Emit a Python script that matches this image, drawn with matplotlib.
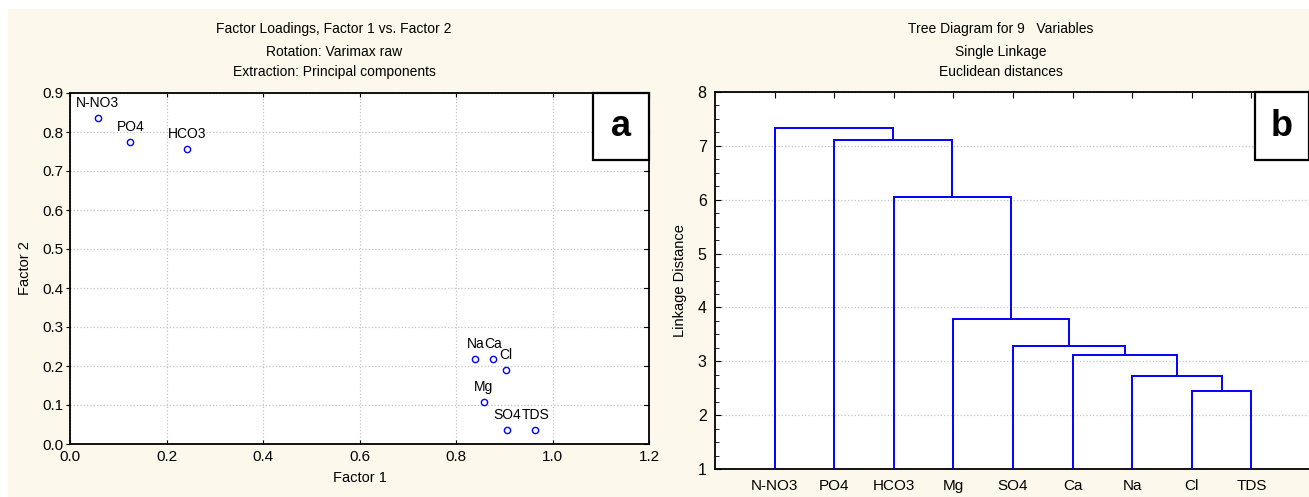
import matplotlib
matplotlib.use('Agg')
import matplotlib.pyplot as plt
from matplotlib.patches import Rectangle

plt.rcParams['font.family'] = ['Liberation Sans', 'DejaVu Sans']

# ---- data: factor loadings (panel a)
variables = ['N-NO3', 'PO4', 'HCO3', 'Na', 'Ca', 'Cl', 'Mg', 'SO4', 'TDS']
factor1 = [0.057, 0.125, 0.243, 0.840, 0.877, 0.904, 0.857, 0.906, 0.964]
factor2 = [0.835, 0.774, 0.756, 0.218, 0.218, 0.190, 0.108, 0.036, 0.036]

# ---- data: single linkage tree (panel b)
leaves = ['N-NO3', 'PO4', 'HCO3', 'Mg', 'SO4', 'Ca', 'Na', 'Cl', 'TDS']
# height at which leaf i joins the cluster of all leaves to its right
join_heights = [7.33, 7.10, 6.05, 3.79, 3.28, 3.12, 2.72, 2.44]

W, H = 1309, 497
fig = plt.figure(figsize=(W / 100, H / 100), dpi=100, facecolor='white')
cream = '#fdf8ec'
fig.patches.append(Rectangle((8 / W, 0), 1 - 8 / W, 1 - 9 / H, transform=fig.transFigure,
                             facecolor=cream, edgecolor='none', zorder=-10))

blue = '#0000ff'
grid_kw = dict(color='#c4c4c4', linestyle=':', linewidth=0.9)
title_fs = 10
tick_fs = 11


def px_axes(l, r, t, b):
    return fig.add_axes([l / W, (H - b) / H, (r - l) / W, (b - t) / H])


def letter_box(ax, x0, x1, y0, letter):
    ax.add_patch(Rectangle((x0, y0), x1 - x0, 1 - y0, transform=ax.transAxes,
                           facecolor='white', edgecolor='black', linewidth=1.6,
                           zorder=5, clip_on=False))
    ax.text((x1 + x0) / 2, (1 + y0) / 2, letter, transform=ax.transAxes,
            ha='center', va='center', fontsize=26, fontweight='bold', zorder=6)


############################################
# Panel a - scatter of loadings
############################################
ax1 = px_axes(70, 649, 93, 444)
ax1.plot(factor1, factor2, 'o', mfc='none', mec=blue, ms=4.5, mew=1.0, zorder=3)
for name, x, y in zip(variables, factor1, factor2):
    ax1.annotate(name, (x, y), xytext=(0, 6), textcoords='offset points',
                 ha='center', va='bottom', fontsize=10)
ax1.set_xlim(0, 1.2)
ax1.set_ylim(0, 0.9)
ax1.set_xticks([0.0, 0.2, 0.4, 0.6, 0.8, 1.0, 1.2])
ax1.set_yticks([i / 10 for i in range(10)])
ax1.xaxis.set_major_formatter(plt.FormatStrFormatter('%.1f'))
ax1.yaxis.set_major_formatter(plt.FormatStrFormatter('%.1f'))
ax1.grid(True, **grid_kw)
ax1.tick_params(axis='x', direction='in', top=True, length=3, labelsize=tick_fs, pad=4)
ax1.tick_params(axis='y', direction='out', right=False, length=3, labelsize=tick_fs, pad=2)
for y in ax1.get_yticks():
    ax1.plot([1.2, 1.19], [y, y], color='black', lw=0.8, clip_on=False, zorder=4)
for s in ax1.spines.values():
    s.set_linewidth(1.3)
ax1.set_xlabel('Factor 1', fontsize=10.5, labelpad=5)
ax1.set_ylabel('Factor 2', fontsize=10.5, labelpad=7)
letter_box(ax1, (593 - 70) / 579, 1.0, (444 - 160) / 351, 'a')

fig.text(334 / W, 1 - 29 / H, 'Factor Loadings, Factor 1 vs. Factor 2', ha='center', va='center', fontsize=title_fs)
fig.text(334 / W, 1 - 52 / H, 'Rotation: Varimax raw', ha='center', va='center', fontsize=title_fs)
fig.text(334 / W, 1 - 72 / H, 'Extraction: Principal components', ha='center', va='center', fontsize=title_fs)

############################################
# Panel b - dendrogram
############################################
ax2 = px_axes(715, 1311, 92, 469)
n = len(leaves)
cx, ch = float(n), 1.0
for i in range(n - 2, -1, -1):
    lx = i + 1
    h = join_heights[i]
    ax2.plot([lx, lx, cx, cx], [1, h, h, ch], color=blue, lw=1.4, solid_joinstyle='miter', zorder=3)
    cx, ch = (lx + cx) / 2, h
ax2.set_xlim(0, n + 1)
ax2.set_ylim(1, 8)
ax2.set_xticks(range(1, n + 1))
ax2.set_xticklabels(leaves)
ax2.set_yticks(range(1, 9))
ax2.set_yticks([1 + k * 0.25 for k in range(29)], minor=True)
ax2.yaxis.grid(True, **grid_kw)
ax2.tick_params(axis='x', which='both', bottom=False, top=True, direction='in', length=4,
                labelsize=tick_fs, pad=7)
ax2.tick_params(axis='y', which='major', direction='in', length=4, labelsize=tick_fs + 0.5, pad=6)
ax2.tick_params(axis='y', which='minor', direction='in', length=3)
for s in ax2.spines.values():
    s.set_linewidth(1.3)
ax2.set_ylabel('Linkage Distance', fontsize=10.5, labelpad=8)
letter_box(ax2, (1255 - 715) / 596, (1309 - 715) / 596, (469 - 160) / 377, 'b')

fig.text(1001 / W, 1 - 29 / H, 'Tree Diagram for 9   Variables', ha='center', va='center', fontsize=title_fs)
fig.text(1001 / W, 1 - 52 / H, 'Single Linkage', ha='center', va='center', fontsize=title_fs)
fig.text(1001 / W, 1 - 72 / H, 'Euclidean distances', ha='center', va='center', fontsize=title_fs)

fig.savefig('out.png', dpi=100, facecolor=fig.get_facecolor())
